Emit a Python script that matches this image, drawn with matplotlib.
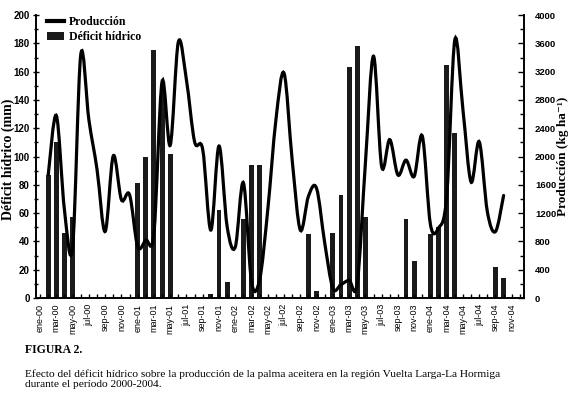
import matplotlib
matplotlib.use("Agg")
import matplotlib.pyplot as plt
from matplotlib.path import Path
from matplotlib.patches import PathPatch, Patch
from matplotlib.lines import Line2D

# month labels, ene-00 ... dic-04
meses = ["ene", "feb", "mar", "abr", "may", "jun", "jul", "ago", "sep", "oct", "nov", "dic"]
anios = ["00", "01", "02", "03", "04"]
etiquetas = [f"{m}-{a}" for a in anios for m in meses]

# water deficit (mm), one value per month
deficit_2000 = [0, 87, 110, 46, 57, 0, 0, 0, 0, 0, 0, 0]
deficit_2001 = [81, 100, 175, 150, 102, 0, 0, 0, 0, 3, 62, 11]
deficit_2002 = [0, 56, 94, 94, 1, 0, 0, 0, 0, 45, 5, 0]
deficit_2003 = [46, 73, 163, 178, 57, 0, 0, 0, 0, 56, 26, 0]
deficit_2004 = [45, 50, 165, 117, 0, 0, 0, 0, 22, 14, 0, 0]
deficit = deficit_2000 + deficit_2001 + deficit_2002 + deficit_2003 + deficit_2004

# production (kg/ha), feb-00 ... oct-04
prod_inicio = 1
produccion = [1740, 2580, 1240, 720, 3440, 2520, 1820, 940, 2010, 1390, 1460,
              730, 820, 920, 3060, 2160, 3620, 3080, 2210, 2100, 960, 2150, 1010,
              720, 1630, 230, 260, 1250, 2520, 3180, 1950, 960, 1440, 1550, 780,
              140, 190, 250, 200, 1900, 3420, 1860, 2240, 1740, 1950, 1720, 2290,
              1040, 990, 1440, 3650, 2660, 1640, 2210, 1220, 940, 1450]


def curva_suave(xs, ys):
    # cubic bezier through the points, like a spreadsheet "smoothed line"
    pts = list(zip(xs, ys))
    verts = [pts[0]]
    codes = [Path.MOVETO]
    n = len(pts)
    for i in range(n - 1):
        p0 = pts[max(i - 1, 0)]
        p1 = pts[i]
        p2 = pts[i + 1]
        p3 = pts[min(i + 2, n - 1)]
        c1 = (p1[0] + (p2[0] - p0[0]) / 6, p1[1] + (p2[1] - p0[1]) / 6)
        c2 = (p2[0] - (p3[0] - p1[0]) / 6, p2[1] - (p3[1] - p1[1]) / 6)
        verts += [c1, c2, p2]
        codes += [Path.CURVE4] * 3
    return Path(verts, codes)


fig = plt.figure(figsize=(5.7, 3.99), dpi=100)
ax = fig.add_axes([0.0632, 0.2531, 0.856, 0.709])
ax2 = ax.twinx()

x = list(range(len(deficit)))
ax.bar(x, deficit, width=0.6, color="#1a1a1a")
ax.set_xlim(-0.5, len(deficit) - 0.5)
ax.set_ylim(0, 200)

xp = list(range(prod_inicio, prod_inicio + len(produccion)))
ax2.add_patch(PathPatch(curva_suave(xp, produccion), facecolor="none",
                        edgecolor="black", lw=2.3, capstyle="round"))
ax2.set_ylim(0, 4000)

sans = "Liberation Sans"
serif = ["Liberation Serif", "DejaVu Serif"]

ax.set_yticks(range(0, 201, 20))
ax.set_yticks(range(0, 201, 10), minor=True)
ax.tick_params(axis="y", which="both", direction="inout", length=5, width=1, pad=2)
ax.tick_params(axis="y", which="minor", length=3)
for t in ax.get_yticklabels():
    t.set_fontfamily(sans)
    t.set_fontweight("bold")
    t.set_fontsize(7)

ax2.set_yticks(range(0, 4001, 400))
ax2.set_yticks(range(0, 4001, 200), minor=True)
ax2.tick_params(axis="y", which="both", direction="in", length=4, width=1, pad=8)
ax2.tick_params(axis="y", which="minor", length=3)
for t in ax2.get_yticklabels():
    t.set_fontfamily(sans)
    t.set_fontweight("bold")
    t.set_fontsize(6.8)

ax.set_xticks(x)
ax.set_xticklabels([e if i % 2 == 0 else "" for i, e in enumerate(etiquetas)],
                   rotation=90, fontsize=6.5, fontfamily=sans)
ax.tick_params(axis="x", direction="in", length=3, width=1, pad=4)

for s in ["left", "right", "bottom"]:
    ax.spines[s].set_linewidth(1.2)
    ax2.spines[s].set_linewidth(1.2)
ax.spines["top"].set_visible(False)
ax2.spines["top"].set_visible(False)

ax.set_ylabel("Déficit hídrico (mm)", fontfamily=serif, fontweight="bold", fontsize=10)
ax.yaxis.set_label_coords(-0.043, 0.49)
ax2.set_ylabel("Producción (kg ha⁻¹)", fontfamily=serif,
               fontweight="bold", fontsize=9.5)
ax2.yaxis.set_label_coords(1.068, 0.5)

handles = [Line2D([], [], color="black", lw=3),
           Patch(facecolor="#1a1a1a")]
ax2.legend(handles, ["Producción", "Déficit hídrico"], loc="upper left",
           bbox_to_anchor=(0.0, 1.035), frameon=False, handlelength=1.5,
           handleheight=0.6, handletextpad=0.4, labelspacing=0.3,
           prop={"family": serif, "weight": "bold", "size": 8.5})

fig.text(0.044, 0.122, "FIGURA 2.", fontfamily=serif, fontweight="bold",
         fontsize=8.5, va="center")
fig.text(0.044, 0.05,
         "Efecto del déficit hídrico sobre la producción de la palma aceitera en la región Vuelta Larga-La Hormiga\n"
         "durante el período 2000-2004.",
         fontfamily=serif, fontsize=8.2, va="center", linespacing=1.1)

fig.savefig("out.png", dpi=100)
